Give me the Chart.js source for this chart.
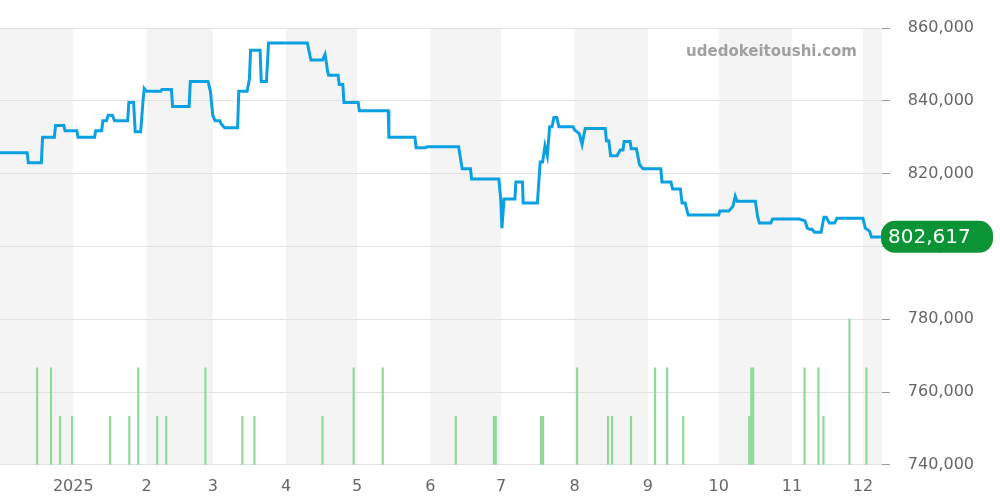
<!DOCTYPE html>
<html><head><meta charset="utf-8">
<script src="https://cdn.jsdelivr.net/npm/chart.js@4/dist/chart.umd.min.js"></script>
<style>html,body{margin:0;padding:0;background:#fff}#w{width:1000px;height:500px}</style>
</head><body><div id="w"><canvas id="c"></canvas></div>
<script>
// days since 2024-12-01
const monthStarts=[31,62,90,121,151,182,212,243,274,304,335,365];
const monthLabels=['2025','2','3','4','5','6','7','8','9','10','11','12'];
const priceDays=[0,11.5,12,17.5,18,23,23.5,27,27.5,32.5,33,40,40.5,43,43.5,45,45.8,47.5,48.5,54,54.5,56.5,57.2,59.5,60.5,61,62,68,68.5,72.5,73,80,80.5,88,89,90,91,93,93.5,95,100.5,101,104.5,105.5,106,110,110.5,112.7,113.6,130,131.5,136.4,137.5,138.6,139,143,143.5,145,145.5,151.5,152,164.2,164.5,175.5,176,180,180.5,194,195.5,199,199.5,211,211.8,212.3,213.2,217.8,218.2,221,221.3,227.3,228.5,229.5,230.5,231.5,232.5,233.5,234.3,235.5,236.4,242.4,243,245,246.2,247.5,256,256.5,257.5,258.3,261,262.3,263.5,264,266.5,267,269.2,270.5,272,279.5,280,283.8,284.5,287.8,288.5,289.8,291.1,304,304.5,308.3,310,311,311.8,319.5,320.5,321.2,326,326.8,338,340.5,341.5,342.4,343.5,344.5,347.3,348.5,349.5,350.8,353,354,365,366,367.8,368.6,373];
const priceValues=[825.7,825.7,823,823,830,830,833.2,833.2,831.8,831.8,830,830,831.8,831.8,834.5,834.5,836,836,834.5,834.5,839.5,839.5,831.5,831.5,840,843.4,842.6,842.6,843.1,843.1,838.4,838.4,845.3,845.3,842.6,836,834.5,834.5,833.7,832.6,832.6,842.6,842.6,846,853.9,853.9,845.3,845.3,855.9,855.9,851.2,851.2,852.8,848,847,847,844.5,844.5,839.5,839.5,837.3,837.3,830,830,827.1,827.1,827.4,827.4,821.3,821.3,818.5,818.5,813,805,813,813,817.7,817.7,811.9,811.9,823.2,823.2,827.6,824.9,832.9,832.9,835.4,835.4,832.9,832.9,832,831,828,832.4,832.4,829,829,824.9,824.9,826.5,826.5,828.8,828.8,826.8,826.8,822.5,821.3,821.3,817.7,817.7,815.8,815.8,811.9,811.9,808.6,808.6,809.7,809.7,811,813.8,812.4,812.4,808,806.4,806.4,807.5,807.5,807,805,804.7,804.7,803.9,803.9,808,808,806.4,806.4,807.7,807.7,805,804.2,802.6,802.6];
const volDays=[15.7,21.6,25.4,30.5,46.6,54.7,58.5,66.5,70.3,86.9,102.5,107.6,136.4,149.6,161.9,192.8,208.9,209.7,228.8,229.7,244.1,257.2,258.9,266.9,277.1,282.2,289,316.9,317.8,318.6,340.3,346.2,348.3,359.3,366.5];
const volValues=[2,2,1,1,1,1,2,1,1,2,1,1,1,2,2,1,1,1,1,1,2,1,1,1,2,2,1,1,2,2,2,2,1,3,2];
const yTicks=[740,760,780,800,820,840,860];
const lastPrice=802617;

const bands={id:'bands',beforeDraw(ch){const {ctx,chartArea:a,scales:{x}}=ch;ctx.save();ctx.fillStyle='#f4f4f4';
 const b=[0].concat(monthStarts,[400]);
 for(let i=0;i<b.length-1;i+=2){const l=Math.max(a.left,x.getPixelForValue(b[i])),r=Math.min(a.right,x.getPixelForValue(b[i+1]));if(r>l)ctx.fillRect(l,a.top,r-l,a.bottom-a.top);}
 ctx.restore();}};
const extras={id:'extras',afterDraw(ch){const {ctx,chartArea:a,scales:{y}}=ch;ctx.save();
 ctx.font='bold 15px "DejaVu Sans"';ctx.fillStyle='#a0a0a0';ctx.textAlign='right';ctx.textBaseline='middle';ctx.fillText('udedokeitoushi.com',857,52);
 const py=y.getPixelForValue(lastPrice/1000);const L=881,W=112,H=32;ctx.fillStyle='#0a9436';
 ctx.beginPath();ctx.roundRect(L,py-H/2,W,H,14);ctx.fill();
 ctx.fillStyle='#fff';ctx.font='20px "DejaVu Sans"';ctx.textAlign='left';ctx.fillText(lastPrice.toLocaleString('en-US'),888,py+1);
 ctx.restore();}};

new Chart(document.getElementById('c'),{
 data:{datasets:[
  {type:'line',data:priceDays.map((d,i)=>({x:d,y:priceValues[i]})),borderColor:'#0aa0e2',borderWidth:3,pointRadius:0,tension:0,yAxisID:'y',order:0},
  {type:'bar',data:volDays.map((d,i)=>({x:d,y:volValues[i]})),backgroundColor:'#8fd89a',barThickness:1.5,yAxisID:'y2',order:1}
 ]},
 options:{responsive:true,maintainAspectRatio:false,animation:false,
  layout:{padding:{top:28,left:0,right:8,bottom:0}},
  plugins:{legend:{display:false},tooltip:{enabled:false}},
  scales:{
   x:{type:'linear',min:0,max:373,offset:false,grid:{display:false,offset:false},border:{display:false},
    afterBuildTicks(s){s.ticks=monthStarts.map(v=>({value:v}));},
    ticks:{autoSkip:false,maxRotation:0,color:'#666',font:{size:16,family:'DejaVu Sans'},padding:4,callback:(v)=>monthLabels[monthStarts.indexOf(v)]}},
   y:{position:'right',min:740,max:860,border:{display:false},
    afterBuildTicks(s){s.ticks=yTicks.map(v=>({value:v}));},
    grid:{color:'#e2e2e2',tickLength:8,tickColor:'#999'},
    ticks:{color:'#666',font:{size:16,family:'DejaVu Sans'},padding:18,callback:v=>(v*1000).toLocaleString('en-US')}},
   y2:{display:false,min:0,max:9}
  }},
 plugins:[bands,extras]});
</script></body></html>
